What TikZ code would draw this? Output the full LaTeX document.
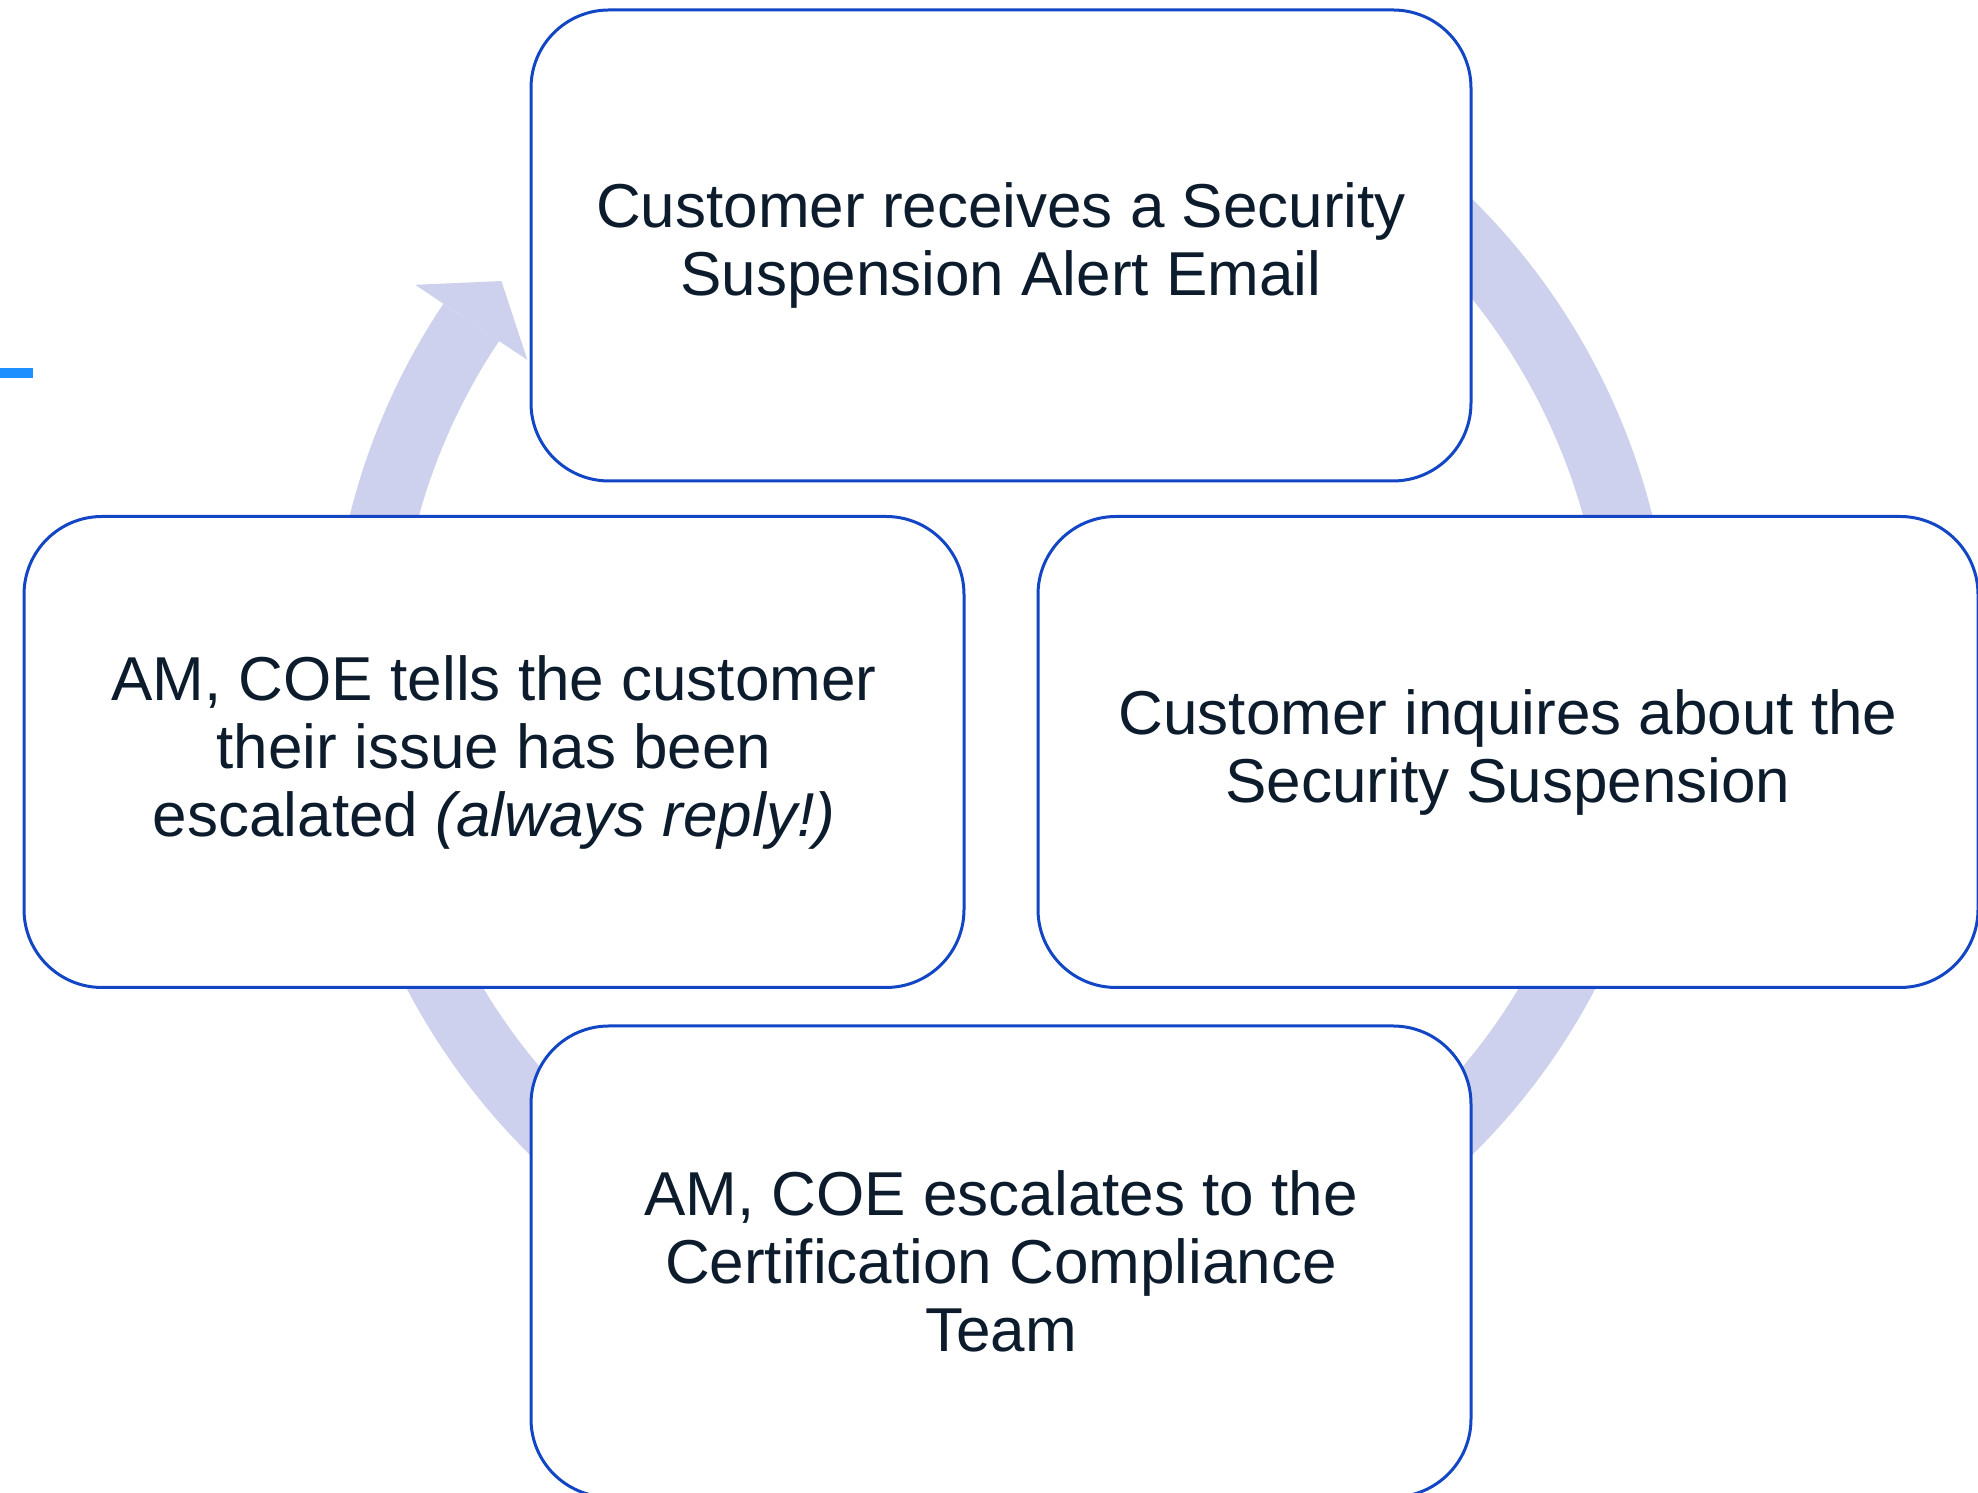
\documentclass[tikz,border=0pt]{standalone}
\usepackage{fontspec}
\setmainfont{Liberation Sans}
\usepackage{xcolor}
\usetikzlibrary{calc}
\definecolor{boxblue}{RGB}{18,70,196}
\definecolor{ringlav}{RGB}{206,209,237}
\definecolor{inkblue}{RGB}{12,28,44}
\definecolor{tickblue}{RGB}{30,144,255}

\begin{document}
\begin{tikzpicture}[x=0.5pt, y=0.5pt,
    stage/.style={draw=boxblue, line width=1.5pt, fill=white, rounded corners=39pt, minimum width=470pt, minimum height=235.5pt, align=center, text=inkblue, font=\fontsize{31}{34}\selectfont, inner sep=0pt},
    ring/.style={draw=ringlav, line width=33.5pt}
]
    \useasboundingbox (0,0) rectangle (1978,1493);
    \fill [tickblue] (0,1115) rectangle (33,1125); % Marker at left edge

    % Cycle arrow behind the stages
    \coordinate (hub) at (1001,816);
    \draw [ring] ($(hub)+(70:637.5)$) arc (70:-213.8:637.5);
    \fill [ringlav] ($(hub)+(146.2:705)$) -- ($(hub)+(141.6:637.5)$) -- ($(hub)+(146.2:570)$) -- cycle; % Head

    % Stages
    \node [stage] (alert) at (1001,1247.5) {Customer receives a Security\\Suspension Alert Email};
    \node [stage] (inquiry) at (1508,741) {Customer inquires about the\\Security Suspension};
    \node [stage] (escalate) at (1001,231.5) {AM, COE escalates to the\\Certification Compliance\\Team};
    \node [stage] (reply) at (494,741) {AM, COE tells the customer\\their issue has been\\escalated \textit{(always reply!)}};
\end{tikzpicture}
\end{document}
